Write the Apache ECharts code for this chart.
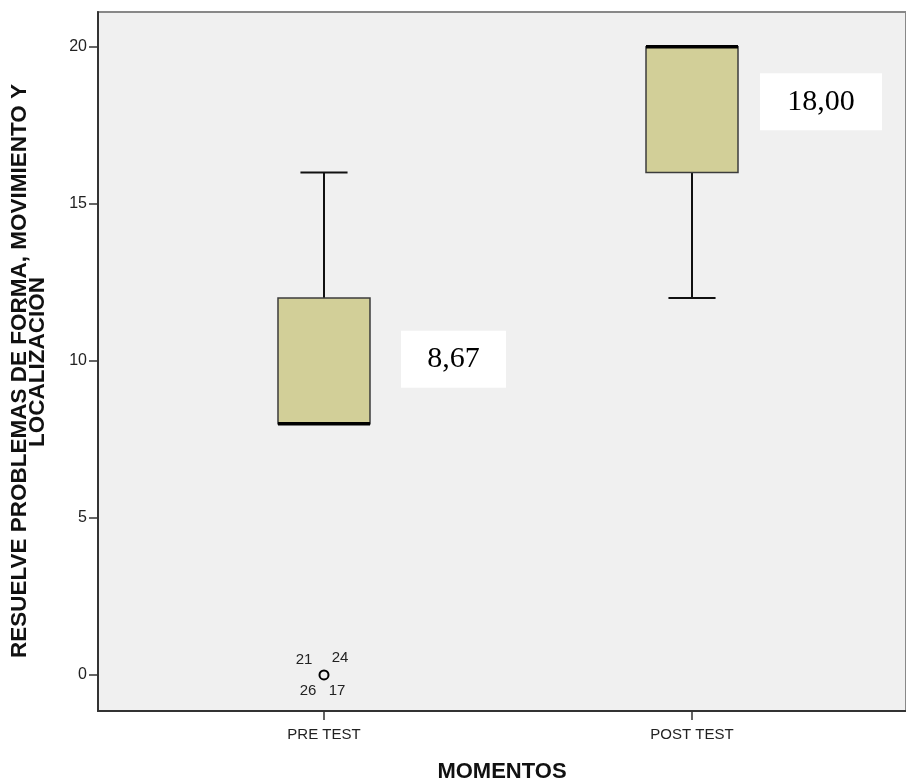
<!DOCTYPE html>
<html>
<head>
<meta charset="utf-8">
<script src="https://cdn.jsdelivr.net/npm/echarts@6/dist/echarts.min.js"></script>
<style>
html,body{margin:0;padding:0;background:#fff;}
#chart{width:906px;height:780px;}
</style>
</head>
<body>
<div id="chart"></div>
<script>
// ---- data ----
const categories = ['PRE TEST', 'POST TEST'];
// [lower whisker, Q1, median, Q3, upper whisker]
const preBox  = [8, 8, 8, 12, 16];
const postBox = [12, 16, 20, 20, 20];
const meanLabels = ['8,67', '18,00'];
const outlierValues = [0];          // outlier value for PRE TEST
const outlierCases = ['21', '24', '26', '17'];
const yTicks = [0, 5, 10, 15, 20];
const yTitleLines = ['RESUELVE PROBLEMAS DE FORMA, MOVIMIENTO Y', 'LOCALIZACIÓN'];
const xTitle = 'MOMENTOS';

// ---- styles ----
const SANS = 'Liberation Sans, Arial, Helvetica, sans-serif';
const BOX_W = 0.25;     // in axis units
const CAP_W = 0.128;
const annotGap = [31, 22];       // px from box right edge
const annotDy = [-1.5, -8];      // px from box middle
const outLabelOffsets = [[-20, -15], [16, -17], [-16, 16], [13, 16]];

const boxes = [preBox, postBox];
const boxSeriesData = boxes.map((b, i) => [i + 1].concat(b));
const outlierData = outlierValues.map(v => [1, v]);

function renderBox(params, api) {
  const i = params.dataIndex;
  const x = api.value(0);
  const lo = api.value(1), q1 = api.value(2), med = api.value(3), q3 = api.value(4), hi = api.value(5);
  const pQ1 = api.coord([x, q1]);
  const pQ3 = api.coord([x, q3]);
  const pMed = api.coord([x, med]);
  const pLo = api.coord([x, lo]);
  const pHi = api.coord([x, hi]);
  const halfW = api.size([BOX_W, 0])[0] / 2;
  const capHalf = api.size([CAP_W, 0])[0] / 2;
  const cx = pQ1[0];
  const children = [];
  const wStyle = {stroke: '#111', lineWidth: 2};
  if (hi > q3) {
    children.push({type: 'line', shape: {x1: cx, y1: pQ3[1], x2: cx, y2: pHi[1]}, style: wStyle});
    children.push({type: 'line', shape: {x1: cx - capHalf, y1: pHi[1], x2: cx + capHalf, y2: pHi[1]}, style: wStyle});
  }
  if (lo < q1) {
    children.push({type: 'line', shape: {x1: cx, y1: pQ1[1], x2: cx, y2: pLo[1]}, style: wStyle});
    children.push({type: 'line', shape: {x1: cx - capHalf, y1: pLo[1], x2: cx + capHalf, y2: pLo[1]}, style: wStyle});
  }
  children.push({
    type: 'rect',
    shape: {x: cx - halfW, y: pQ3[1], width: halfW * 2, height: pQ1[1] - pQ3[1]},
    style: {fill: '#d2cf98', stroke: '#3c3c3c', lineWidth: 1.5}
  });
  children.push({
    type: 'line',
    shape: {x1: cx - halfW, y1: pMed[1], x2: cx + halfW, y2: pMed[1]},
    style: {stroke: '#000', lineWidth: 3.5}
  });
  // annotation box
  const midY = (pQ1[1] + pQ3[1]) / 2 + annotDy[i];
  const ax = cx + halfW + annotGap[i];
  const aw = i === 0 ? 105 : 122, ah = 57;
  children.push({
    type: 'rect',
    shape: {x: ax, y: midY - ah / 2, width: aw, height: ah},
    style: {fill: '#ffffff'}
  });
  children.push({
    type: 'text',
    style: {
      x: ax + aw / 2, y: midY, text: meanLabels[i],
      align: 'center', verticalAlign: 'middle',
      font: '30px "Liberation Serif", "Times New Roman", serif', fill: '#000'
    }
  });
  return {type: 'group', children: children};
}

function renderOutlier(params, api) {
  const p = api.coord([api.value(0), api.value(1)]);
  const children = [{
    type: 'circle', shape: {cx: p[0], cy: p[1], r: 4.5},
    style: {fill: 'none', stroke: '#000', lineWidth: 2}
  }];
  outlierCases.forEach((t, k) => {
    children.push({
      type: 'text',
      style: {
        x: p[0] + outLabelOffsets[k][0], y: p[1] + outLabelOffsets[k][1], text: t,
        align: 'center', verticalAlign: 'middle',
        font: '15px ' + SANS, fill: '#222'
      }
    });
  });
  return {type: 'group', children: children};
}

const titleFont = 'bold 22.5px ' + SANS;
const chart = echarts.init(document.getElementById('chart'), null, {renderer: 'canvas'});
chart.setOption({
  animation: false,
  backgroundColor: '#ffffff',
  graphic: [
    {type: 'text', x: 20, y: 371, rotation: Math.PI / 2,
     style: {text: yTitleLines[0], font: titleFont, fill: '#111', align: 'center', verticalAlign: 'middle'}},
    {type: 'text', x: 38, y: 362, rotation: Math.PI / 2,
     style: {text: yTitleLines[1], font: titleFont, fill: '#111', align: 'center', verticalAlign: 'middle'}}
  ],
  grid: {
    left: 98, top: 12, right: 0, bottom: 69,
    containLabel: false, outerBoundsMode: 'none',
    show: true, backgroundColor: '#f0f0f0', borderColor: '#888', borderWidth: 2
  },
  xAxis: {
    type: 'value',
    min: 0.3859, max: 2.5815,
    splitLine: {show: false},
    axisLine: {show: true, onZero: false, lineStyle: {color: '#333', width: 2}},
    axisTick: {show: true, length: 9, customValues: [1, 2], lineStyle: {color: '#333', width: 1.5}},
    axisLabel: {
      customValues: [1, 2], margin: 16,
      formatter: v => categories[Math.round(v) - 1] || '',
      fontFamily: SANS, fontSize: 15, color: '#222'
    },
    name: xTitle, nameLocation: 'middle', nameGap: 50,
    nameTextStyle: {fontFamily: SANS, fontSize: 22, fontWeight: 'bold', color: '#111'}
  },
  yAxis: {
    type: 'value',
    min: -1.15, max: 21.11,
    splitLine: {show: false},
    axisLine: {show: true, onZero: false, lineStyle: {color: '#333', width: 2}},
    axisTick: {show: true, length: 9, customValues: yTicks, lineStyle: {color: '#333', width: 1.5}},
    axisLabel: {customValues: yTicks, margin: 11, fontFamily: SANS, fontSize: 16, color: '#222'}
  },
  series: [
    {type: 'custom', renderItem: renderBox, data: boxSeriesData, encode: {x: 0, y: [1, 2, 3, 4, 5]}, clip: false},
    {type: 'custom', renderItem: renderOutlier, data: outlierData, encode: {x: 0, y: 1}, clip: false}
  ]
});
</script>
</body>
</html>
